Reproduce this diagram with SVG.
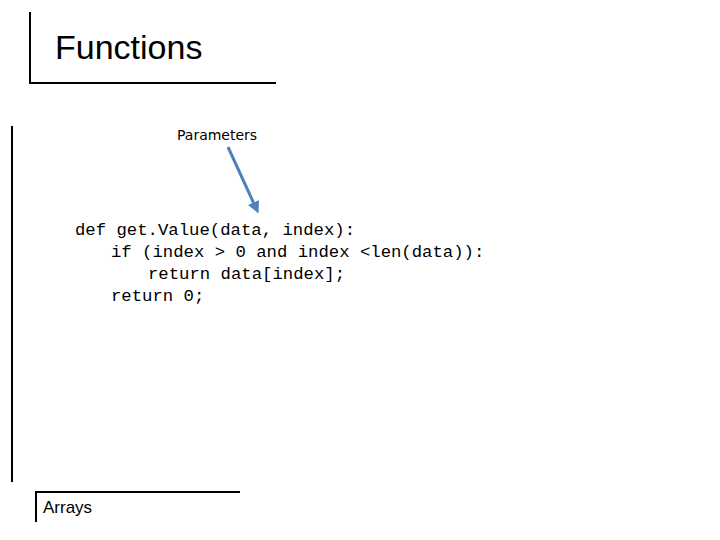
<svg xmlns="http://www.w3.org/2000/svg" width="720" height="540" viewBox="0 0 720 540">
<style>
.ln{stroke:#000;stroke-width:2;fill:none}
.code{font-family:"Liberation Mono",monospace;font-size:17.3px;fill:#000}
.sans{font-family:"Liberation Sans",Arial,sans-serif;fill:#000}
</style>
<defs><marker id="ah" markerWidth="4" markerHeight="4" refX="2" refY="2" orient="auto" markerUnits="strokeWidth"><path d="M0,0 L4,2 L0,4 Z" fill="#4f81bd"/></marker></defs>
<rect width="720" height="540" fill="#fff"/>
<path class="ln" d="M30,12 V83 H276"/>
<path class="ln" d="M12,126 V482"/>
<path class="ln" d="M36,522 V492 H240"/>
<text class="sans" x="55" y="59" font-size="34">Functions</text>
<g id="params"><text x="177" y="140" font-family="'DejaVu Sans',Verdana,sans-serif" font-size="14" fill="#000">Parameters</text></g>
<g id="connectors"><line x1="228" y1="147" x2="256" y2="208" stroke="#4f81bd" stroke-width="3" marker-end="url(#ah)"/></g>
<g id="code">
<text class="code" x="75" y="235">def get.Value(data, index):</text>
<text class="code" x="111" y="257">if (index &gt; 0 and index &lt;len(data)):</text>
<text class="code" x="148" y="279">return data[index];</text>
<text class="code" x="111" y="301">return 0;</text>
</g>
<text class="sans" x="43" y="513" font-size="17">Arrays</text>
</svg>
